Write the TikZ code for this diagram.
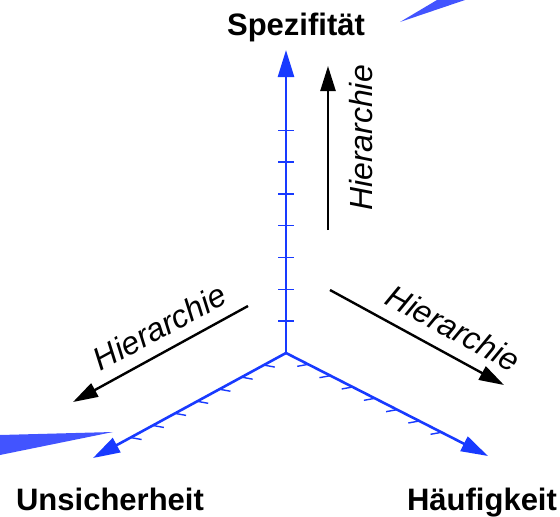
\documentclass[tikz,border=0pt]{standalone}
\usepackage{fontspec}
\setmainfont{Liberation Sans}
\usetikzlibrary{arrows.meta,calc}
\definecolor{axisblue}{RGB}{24,58,255}
\definecolor{wedgeblue}{RGB}{66,84,255}
\begin{document}
\begin{tikzpicture}[x=1pt,y=1pt,
  axis/.style={axisblue,line width=2.6pt,-{Triangle[length=27pt,width=16pt]}},
  axistick/.style={axisblue,line width=1.4pt},
  hier/.style={black,line width=2.4pt,-{Triangle[length=25pt,width=15pt]}},
  axislabel/.style={font=\fontsize{31}{36}\selectfont\bfseries,anchor=base,inner sep=0pt},
  hierlabel/.style={font=\fontsize{32}{36}\selectfont\itshape,anchor=base,inner sep=0pt}]
\useasboundingbox (0,0) rectangle (560,-517);

% cut-off blue wedges at the border
\fill[wedgeblue] (400,-22) -- (437,0) -- (465,0) -- cycle;
\fill[wedgeblue] (113,-432) -- (0,-435) -- (0,-455) -- cycle;

% the three axes
\coordinate (O) at (286,-353);
\coordinate (Spz) at (286,-50);
\coordinate (Uns) at (93,-458);
\coordinate (Hfg) at (488,-456);
\draw[axis] (O) -- (Spz);
\draw[axis] (O) -- (Uns);
\draw[axis] (O) -- (Hfg);

\foreach \t in {1,...,7} {
  \draw[axistick] ($(O)!{0.105*\t}!(Spz)$) +(-8,0) -- +(8,0);
  \draw[axistick] ($(O)!{0.115*\t}!(Uns)$) -- +(11,-2);
  \draw[axistick] ($(O)!{0.11*\t}!(Hfg)$) -- +(-11,-2);
}

\node[axislabel] (spz) at (296,-35) {Spezifität};
\node[axislabel] (uns) at (110,-510) {Unsicherheit};
\node[axislabel] (hfg) at (482,-510) {Häufigkeit};

% hierarchy directions
\coordinate (hv0) at (328,-230);
\coordinate (hv1) at (328,-66);
\coordinate (hl0) at (248,-306);
\coordinate (hl1) at (73,-402);
\coordinate (hr0) at (330,-290);
\coordinate (hr1) at (504,-385);
\draw[hier] (hv0) -- (hv1);
\draw[hier] (hl0) -- (hl1);
\draw[hier] (hr0) -- (hr1);
\node[hierlabel,rotate=90] (hv) at (372,-138) {Hierarchie};
\node[hierlabel,rotate=28.5] (hl) at (165,-337) {Hierarchie};
\node[hierlabel,rotate=-28.5] (hr) at (448,-338) {Hierarchie};
\end{tikzpicture}
\end{document}
